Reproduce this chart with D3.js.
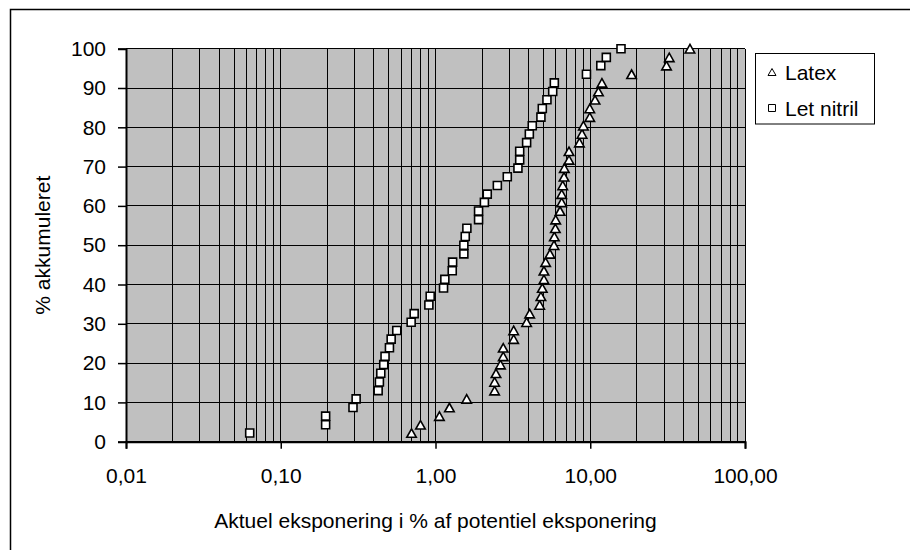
<!DOCTYPE html>
<html>
<head>
<meta charset="utf-8">
<script src="https://cdn.jsdelivr.net/npm/d3@7"></script>
<style>
  html, body { margin: 0; padding: 0; background: #fff; }
  svg { display: block; }
  text { font-family: "Liberation Sans", Arial, sans-serif; fill: #000; }
</style>
</head>
<body>
<script>
// ---- data ----
const seriesNames = ["Latex", "Let nitril"];

const latexX = [0.70, 0.80, 1.06, 1.23, 1.59, 2.41, 2.41, 2.46, 2.63, 2.74, 2.74, 3.20, 3.20, 3.88, 4.06,
  4.71, 4.80, 4.90, 5.02, 5.02, 5.15, 5.49, 5.83, 5.86, 5.95, 5.98, 6.38, 6.54, 6.54, 6.64, 6.77, 6.80,
  7.29, 7.29, 8.51, 8.85, 9.03, 9.93, 9.93, 10.74, 11.3, 11.9, 18.5, 31.1, 32.4, 44.1];
const latexY = [2.2, 4.3, 6.5, 8.7, 10.9, 13.0, 15.2, 17.4, 19.6, 21.7, 23.9, 26.1, 28.3, 30.4, 32.6,
  34.8, 37.0, 39.1, 41.3, 43.5, 45.7, 47.8, 50.0, 52.2, 54.3, 56.5, 58.7, 60.9, 63.0, 65.2, 67.4, 69.6,
  71.7, 73.9, 76.1, 78.3, 80.4, 82.6, 84.8, 87.0, 89.1, 91.3, 93.5, 95.7, 97.8, 100];

const nitrilX = [0.063, 0.195, 0.195, 0.293, 0.307, 0.426, 0.434, 0.443, 0.463, 0.472, 0.504, 0.517, 0.562,
  0.696, 0.728, 0.906, 0.924, 1.127, 1.149, 1.283, 1.29, 1.525, 1.525, 1.557, 1.595, 1.898, 1.898, 2.07,
  2.16, 2.51, 2.91, 3.41, 3.50, 3.50, 3.88, 4.04, 4.22, 4.80, 4.90, 5.25, 5.72, 5.86, 9.45, 11.7, 12.7, 15.8];
const nitrilY = [2.2, 4.3, 6.5, 8.7, 10.9, 13.0, 15.2, 17.4, 19.6, 21.7, 23.9, 26.1, 28.3, 30.4, 32.6,
  34.8, 37.0, 39.1, 41.3, 43.5, 45.7, 47.8, 50.0, 52.2, 54.3, 56.5, 58.7, 60.9, 63.0, 65.2, 67.4, 69.6,
  71.7, 73.9, 76.1, 78.3, 80.4, 82.6, 84.8, 87.0, 89.1, 91.3, 93.5, 95.7, 97.8, 100];

const xTickValues = [0.01, 0.1, 1, 10, 100];
const xTickLabels = ["0,01", "0,10", "1,00", "10,00", "100,00"];
const yTickValues = [0, 10, 20, 30, 40, 50, 60, 70, 80, 90, 100];
const xTitle = "Aktuel eksponering i % af potentiel eksponering";
const yTitle = "% akkumuleret";

// ---- layout ----
const W = 910, H = 550;
const plot = { left: 126, right: 745, top: 48.7, bottom: 441.7 };
const FS = 21;

const svg = d3.select("body").append("svg").attr("width", W).attr("height", H);

// outer chart border (right/bottom edges fall outside the picture)
svg.append("rect").attr("x", 10.5).attr("y", 9.5).attr("width", W + 10).attr("height", H + 10)
  .attr("fill", "#fff").attr("stroke", "#000").attr("stroke-width", 1.5);

const x = d3.scaleLog().domain([0.01, 100]).range([plot.left, plot.right]);
const y = d3.scaleLinear().domain([0, 100]).range([plot.bottom, plot.top]);

// plot background
svg.append("rect").attr("x", plot.left).attr("y", plot.top)
  .attr("width", plot.right - plot.left).attr("height", plot.bottom - plot.top)
  .attr("fill", "#C0C0C0");

// gridlines
const grid = svg.append("g").attr("stroke", "#000").attr("stroke-width", 1).attr("shape-rendering", "crispEdges");
grid.selectAll("line.v").data(x.ticks()).join("line").attr("class", "v")
  .attr("x1", d => x(d)).attr("x2", d => x(d)).attr("y1", plot.top).attr("y2", plot.bottom);
grid.selectAll("line.h").data(yTickValues).join("line").attr("class", "h")
  .attr("x1", plot.left).attr("x2", plot.right).attr("y1", d => y(d)).attr("y2", d => y(d));

// axes
const yAxis = svg.append("g").attr("transform", `translate(${plot.left},0)`)
  .call(d3.axisLeft(y).tickValues(yTickValues).tickSize(8).tickPadding(12).tickFormat(d3.format("d")));
const xAxis = svg.append("g").attr("transform", `translate(0,${plot.bottom})`)
  .call(d3.axisBottom(x).tickValues(xTickValues).tickSize(7).tickPadding(19)
    .tickFormat((d, i) => xTickLabels[i]));
[xAxis, yAxis].forEach(g => {
  g.select(".domain").attr("stroke", "#000").attr("stroke-width", 2);
  g.selectAll(".tick line").attr("stroke", "#000").attr("stroke-width", 1.5);
  g.selectAll(".tick text").attr("font-size", FS).attr("font-family", '"Liberation Sans", Arial, sans-serif');
});

// markers
const tri = (w, h) => `M0,${-h / 2}L${w / 2},${h / 2}L${-w / 2},${h / 2}Z`;
const sq = s => `M${-s / 2},${-s / 2}h${s}v${s}h${-s}Z`;

const nitril = nitrilX.map((v, i) => ({ x: v, y: nitrilY[i] }));
const latex = latexX.map((v, i) => ({ x: v, y: latexY[i] }));

svg.append("g").selectAll("path").data(nitril).join("path")
  .attr("d", sq(8)).attr("transform", d => `translate(${x(d.x)},${y(d.y)})`)
  .attr("fill", "#fff").attr("stroke", "#000").attr("stroke-width", 1.6);
svg.append("g").selectAll("path").data(latex).join("path")
  .attr("d", tri(9.5, 8.5)).attr("transform", d => `translate(${x(d.x)},${y(d.y)})`)
  .attr("fill", "#fff").attr("stroke", "#000").attr("stroke-width", 1.6).attr("stroke-linejoin", "miter");

// axis titles
svg.append("text").attr("x", (plot.left + plot.right) / 2).attr("y", 528)
  .attr("text-anchor", "middle").attr("font-size", FS).text(xTitle);
svg.append("text").attr("transform", `translate(50,${(plot.top + plot.bottom) / 2}) rotate(-90)`)
  .attr("text-anchor", "middle").attr("font-size", FS).text(yTitle);

// legend
const lg = svg.append("g");
lg.append("rect").attr("x", 755.5).attr("y", 53.5).attr("width", 119).attr("height", 70.5)
  .attr("fill", "#fff").attr("stroke", "#000").attr("stroke-width", 1);
const legendItems = [
  { name: seriesNames[0], d: tri(8, 7), cy: 72 },
  { name: seriesNames[1], d: sq(7), cy: 108 }
];
legendItems.forEach(it => {
  lg.append("path").attr("d", it.d).attr("transform", `translate(772,${it.cy})`)
    .attr("fill", "#fff").attr("stroke", "#000").attr("stroke-width", 1);
  lg.append("text").attr("x", 785).attr("y", it.cy).attr("dy", "0.36em")
    .attr("font-size", FS).text(it.name);
});
</script>
</body>
</html>
